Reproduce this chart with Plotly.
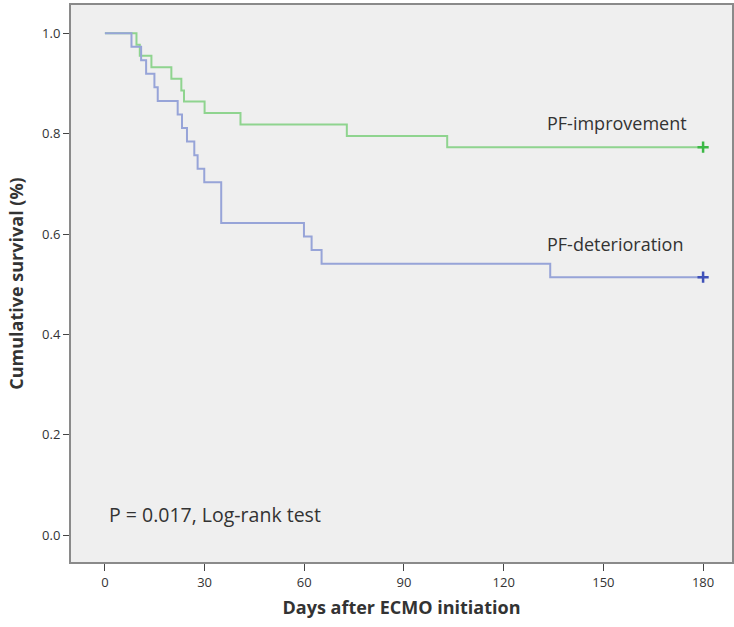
import plotly.graph_objects as go

# Kaplan-Meier step data (days, survival)
improve_days = [0, 9.5, 10.5, 14.0, 20.0, 23.0, 23.8, 30.0, 40.8, 72.8, 103.0, 180]
improve_surv = [1.0, 0.977, 0.955, 0.932, 0.909, 0.886, 0.864, 0.841, 0.818, 0.795, 0.773, 0.773]

deter_days = [0, 8.0, 10.9, 12.4, 14.9, 15.9, 21.9, 23.2, 24.7, 26.9, 27.9, 29.9, 35.0, 59.9, 62.2, 65.2, 134.0, 180]
deter_surv = [1.0, 0.973, 0.946, 0.919, 0.892, 0.865, 0.838, 0.811, 0.784, 0.757, 0.730, 0.703, 0.622, 0.595, 0.568, 0.541, 0.514, 0.514]

x_ticks = [0, 30, 60, 90, 120, 150, 180]
y_ticks = [0.0, 0.2, 0.4, 0.6, 0.8, 1.0]
y_tick_labels = ["0.0", "0.2", "0.4", "0.6", "0.8", "1.0"]

green_line = "#8fd48f"
green_mark = "#3cb846"
blue_line = "#97a4d8"
blue_mark = "#3f51b8"

fig = go.Figure()
fig.add_trace(go.Scatter(x=improve_days, y=improve_surv, mode="lines", line=dict(shape="hv", color=green_line, width=2),
                         showlegend=False, hoverinfo="skip"))
fig.add_trace(go.Scatter(x=[improve_days[-1]], y=[improve_surv[-1]], mode="markers",
                         marker=dict(symbol="cross-thin", size=8, line=dict(color=green_mark, width=2.5)),
                         showlegend=False))
fig.add_trace(go.Scatter(x=deter_days, y=deter_surv, mode="lines", line=dict(shape="hv", color=blue_line, width=2),
                         showlegend=False, hoverinfo="skip"))
fig.add_trace(go.Scatter(x=[deter_days[-1]], y=[deter_surv[-1]], mode="markers",
                         marker=dict(symbol="cross-thin", size=8, line=dict(color=blue_mark, width=2.5)),
                         showlegend=False))

font_fam = "Open Sans, DejaVu Sans, sans-serif"

fig.add_annotation(x=132.3, y=0.821, text="PF-improvement", showarrow=False, xanchor="left", yanchor="middle",
                   font=dict(size=18, color="#333333", family=font_fam))
fig.add_annotation(x=132.3, y=0.580, text="PF-deterioration", showarrow=False, xanchor="left", yanchor="middle",
                   font=dict(size=18, color="#333333", family=font_fam))
fig.add_annotation(x=0.5, y=0.041, text="P = 0.017, Log-rank test", showarrow=False, xanchor="left", yanchor="middle",
                   font=dict(size=19.5, color="#333333", family=font_fam))

fig.update_layout(
    width=734, height=627,
    margin=dict(l=71, r=0, t=5, b=65),
    paper_bgcolor="white",
    plot_bgcolor="#efefef",
    font=dict(family=font_fam, color="#333333"),
    xaxis=dict(range=[-10.2, 188.7], tickvals=x_ticks, ticks="outside", ticklen=7, tickwidth=1, tickcolor="#444444",
               showgrid=False, zeroline=False, showline=True, linecolor="#8a8a8a", linewidth=2, mirror=True,
               tickfont=dict(size=13, color="#333333"),
               title=dict(text="<b>Days after ECMO initiation</b>", font=dict(size=18, color="#333333"), standoff=12)),
    yaxis=dict(range=[-0.053, 1.056], tickvals=y_ticks, ticktext=y_tick_labels, ticks="outside", ticklen=6, tickwidth=1,
               tickcolor="#444444", showgrid=False, zeroline=False, showline=True, linecolor="#8a8a8a", linewidth=2,
               mirror=True, tickfont=dict(size=13, color="#333333"),
               title=dict(text="<b>Cumulative survival (%)</b>", font=dict(size=18, color="#333333"), standoff=14)),
)

fig.write_html("out.html", config={"displayModeBar": False},
               post_script="document.body.style.margin='0';document.body.style.padding='0';document.body.style.overflow='hidden';document.documentElement.style.overflow='hidden';")
